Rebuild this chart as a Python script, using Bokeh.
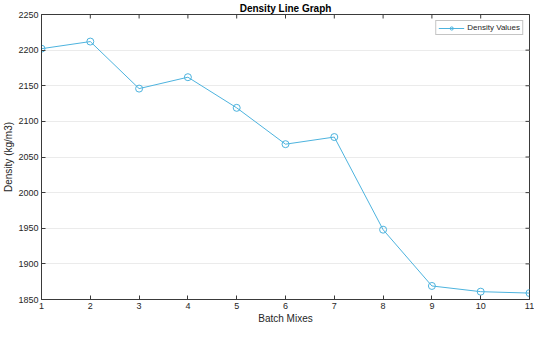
import math
from bokeh.plotting import figure
from bokeh.models import FixedTicker, Legend, LegendItem, Range1d
from bokeh.embed import file_html
from bokeh.resources import INLINE

batch_mixes = [1, 2, 3, 4, 5, 6, 7, 8, 9, 10, 11]
density_values = [2202, 2212, 2146, 2162, 2119, 2068, 2078, 1948, 1869, 1861, 1859]
x_ticks = [1, 2, 3, 4, 5, 6, 7, 8, 9, 10, 11]
y_ticks = [1850, 1900, 1950, 2000, 2050, 2100, 2150, 2200, 2250]
x_lim = (1, 11)
y_lim = (1850, 2250)

FONT = "Liberation Sans"
LINE = "#4DB3DE"
AX = "#3a3a3a"

p = figure(width=534, height=326, output_backend="svg", toolbar_location=None,
           x_range=Range1d(*x_lim), y_range=Range1d(*y_lim),
           title="Density Line Graph",
           min_border_left=4, min_border_right=5, min_border_top=2, min_border_bottom=1)

p.title.text_font = FONT
p.title.text_font_size = "10px"
p.title.text_font_style = "bold"
p.title.text_color = "#000000"
p.title.align = "center"
p.title.standoff = 1
p.title.offset = 0

for ax in (p.xaxis[0], p.yaxis[0]):
    ax.major_label_text_font = FONT
    ax.major_label_text_font_size = "9px"
    ax.major_label_text_color = "#262626"
    ax.axis_label_text_font = FONT
    ax.axis_label_text_font_size = "10px"
    ax.axis_label_text_font_style = "normal"
    ax.axis_label_text_color = "#262626"
    ax.axis_line_color = AX
    ax.major_tick_line_color = AX
    ax.major_tick_in = 4
    ax.major_tick_out = 0
    ax.minor_tick_line_color = None
    ax.major_label_standoff = 3
    ax.axis_label_standoff = 1

p.xaxis[0].ticker = FixedTicker(ticks=x_ticks)
p.yaxis[0].ticker = FixedTicker(ticks=y_ticks)
p.xaxis[0].axis_label = "Batch Mixes"
p.yaxis[0].axis_label = "Density (kg/m3)"

# inward tick marks on the top and right edges of the box (half of each dash is clipped)
p.scatter(x_ticks, [y_lim[1]] * len(x_ticks), marker="dash", size=8, angle=math.pi / 2,
          line_color=AX, line_width=1)
p.scatter([x_lim[1]] * len(y_ticks), y_ticks, marker="dash", size=8,
          line_color=AX, line_width=1)

p.xgrid.grid_line_color = None
p.ygrid.grid_line_color = "#ebebeb"
p.outline_line_color = AX
p.background_fill_color = "white"
p.border_fill_color = "white"

ln = p.line(batch_mixes, density_values, line_color=LINE, line_width=1)
sc = p.scatter(batch_mixes, density_values, marker="circle", size=7,
               line_color=LINE, fill_color=None, line_width=1)

legend = Legend(items=[LegendItem(label="Density Values", renderers=[ln, sc])],
                location="top_right")
legend.label_text_font = FONT
legend.label_text_font_size = "8px"
legend.label_text_color = "#262626"
legend.glyph_width = 26
legend.glyph_height = 8
legend.label_height = 8
legend.label_standoff = 3
legend.padding = 2
legend.margin = 6
legend.spacing = 0
legend.border_line_color = "#8a8a8a"
legend.border_line_width = 1
legend.background_fill_alpha = 1
p.add_layout(legend)

open("out.html", "w").write(file_html(p, INLINE))
